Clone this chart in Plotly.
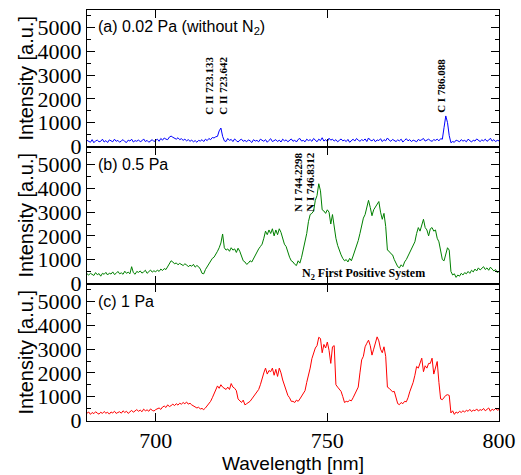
import plotly.graph_objects as go
from plotly.subplots import make_subplots

# Wavelength sampling: start and step (nm)
wl_start = 680.0
wl_step = 0.5

# (a) 0.02 Pa (without N2) -- intensity [a.u.], 680..800 nm every 0.5 nm
int_a = [
    250, 200, 170, 280, 150, 230, 260, 190, 210, 300,
    180, 240, 160, 270, 220, 190, 300, 210, 250, 170,
    230, 280, 200, 160, 260, 220, 300, 180, 240, 210,
    270, 190, 230, 310, 200, 250, 170, 230, 280, 200,
    240, 300, 210, 330, 260, 350, 300, 280, 390, 430,
    380, 340, 300, 360, 280, 320, 250, 300, 230, 280,
    210, 260, 190, 240, 170, 250, 220, 280, 200, 300,
    240, 330, 280, 370, 350, 400, 420, 650, 770, 420,
    230, 200, 330, 250, 290, 200, 310, 240, 180, 260,
    300, 210, 250, 190, 270, 230, 160, 280, 220, 250,
    190, 300, 240, 210, 280, 170, 250, 320, 200, 240,
    280, 200, 260, 180, 300, 230, 270, 190, 250, 310,
    210, 260, 180, 290, 330, 220, 250, 190, 300, 240,
    280, 210, 330, 250, 190, 300, 240, 360, 220, 280,
    200, 340, 260, 300, 220, 280, 190, 250, 310, 230,
    260, 200, 290, 170, 240, 300, 220, 330, 260, 210,
    280, 240, 310, 200, 350, 260, 230, 300, 190, 270,
    240, 320, 200, 280, 230, 350, 260, 210, 290, 240,
    200, 270, 230, 300, 180, 250, 320, 230, 280, 200,
    260, 230, 190, 290, 240, 280, 330, 220, 260, 300,
    240, 210, 280, 250, 300, 230, 320, 300, 800, 1280,
    1000, 450, 150, 200, 170, 260, 230, 190, 280, 220,
    250, 190, 300, 230, 180, 260, 220, 310, 240, 200,
    270, 230, 300, 210, 260, 340, 220, 280, 200, 250,
    230,
]

# (b) 0.5 Pa
int_b = [
    400, 350, 420, 380, 330, 450, 360, 410, 300, 420,
    380, 460, 350, 430, 390, 480, 370, 420, 500, 400,
    440, 380, 510, 420, 470, 400, 700, 450, 380, 500,
    460, 520, 430, 480, 550, 420, 500, 560, 470, 530,
    480, 560, 500, 600, 540, 620, 580, 700, 880, 950,
    900, 820, 860, 780, 840, 800, 750, 820, 780, 700,
    760, 720, 800, 680, 750, 700, 600, 420, 400, 580,
    700, 800, 950, 1050, 1100, 1200, 1350, 1500, 1700, 2080,
    1500, 1400, 1450, 1350, 1500, 1400, 1450, 1300, 1480, 1350,
    1100, 950, 900, 800, 850, 950, 900, 1050, 1200, 1350,
    1450, 1550, 1650, 1900, 2200, 2050, 2250, 2100, 2300, 2000,
    2250, 2050, 2300, 2150, 1900, 1650, 1550, 1300, 1100, 950,
    900, 800, 750, 950, 850, 1100, 1450, 1650, 2100, 2600,
    2900, 2950, 3050, 3500, 3700, 4200, 3900, 3100, 3050, 2950,
    3100, 3000, 2500, 2900, 2300, 1900, 1600, 1350, 1200, 1050,
    950, 1000, 900, 1050, 950, 1150, 1350, 1550, 1800, 2100,
    2450, 2750, 2900, 3150, 3500, 3200, 2850, 3100, 3200, 3300,
    3450, 3000, 2700, 2950, 2400, 1400, 1350, 1250, 1200, 1000,
    850, 700, 650, 780, 700, 900, 1000, 1150, 1300, 1450,
    1600, 1750, 2100, 2350, 2200, 2500, 2700, 2350, 2250, 2000,
    2300, 2350, 2200, 2250, 1900, 1750, 1300, 1000, 950, 1300,
    1500, 1400, 500, 350, 400, 250, 350, 300, 420, 350,
    450, 400, 500, 420, 550, 480, 600, 520, 650, 560,
    620, 700, 580, 650, 550, 680, 600, 520, 580, 450,
    500,
]

# (c) 1 Pa
int_c = [
    300, 350, 250, 330, 280, 360, 300, 260, 340, 290,
    370, 300, 340, 260, 350, 310, 380, 290, 330, 360,
    300, 400, 330, 380, 290, 360, 420, 340, 380, 450,
    380, 430, 360, 470, 400, 440, 380, 480, 420, 390,
    450, 480, 520, 460, 560, 600, 540, 650, 580, 620,
    680, 620, 700, 640, 720, 680, 750, 700, 770, 680,
    720, 650, 600, 560, 520, 550, 480, 500, 450, 520,
    600, 700, 800, 950, 1100, 1250, 1450, 1350, 1500, 1400,
    1350, 1300, 1400, 1300, 1550, 1400, 1350, 1250, 900, 800,
    750, 850, 650, 700, 750, 800, 900, 1000, 1150, 1250,
    1300, 1500, 1800, 2000, 2200, 1950, 2100, 2050, 2200, 1900,
    2150, 1850, 2200, 2000, 1700, 1450, 1300, 1050, 950, 800,
    800, 750, 850, 800, 900, 1000, 1100, 1250, 1600, 1850,
    2200, 2600, 2800, 3050, 3150, 3500, 3450, 2850, 3200, 3050,
    3300, 2950, 2400, 3100, 3150, 1500, 1400, 1300, 1220, 1000,
    750, 800, 780, 850, 820, 950, 1100, 1250, 1400, 2000,
    2550, 2700, 3100, 3250, 3380, 3150, 2750, 3000, 3250, 3520,
    3350, 3000, 2850, 3100, 2700, 1400, 1350, 1250, 1200, 1220,
    950, 700, 660, 750, 700, 800, 780, 950, 1200, 1400,
    1600, 1900, 2270, 2200, 2450, 2620, 2050, 2300, 2200, 2400,
    2400, 2620, 1950, 2200, 2480, 1600, 900, 870, 950, 1050,
    1080, 1050, 310, 400, 250, 350, 300, 380, 330, 400,
    350, 420, 380, 460, 370, 430, 400, 480, 390, 450,
    420, 500, 400, 460, 520, 380, 470, 420, 500, 430,
    450,
]

panel_labels = ["(a) 0.02 Pa (without N<sub>2</sub>)", "(b) 0.5 Pa", "(c) 1 Pa"]
line_colors = ["#0000ff", "#008000", "#ff0000"]
series = [int_a, int_b, int_c]

# line identifications: (text, wavelength position, intensity position, panel row)
line_ids = [
    ("C II 723.133", 715.5, 2550, 1),
    ("C II 723.642", 719.6, 2550, 1),
    ("C I 786.088", 783.1, 2550, 1),
    ("N I 744.2298", 741.3, 4250, 2),
    ("N I 746.8312", 744.7, 4250, 2),
]

y_ticks = [0, 1000, 2000, 3000, 4000, 5000]
x_ticks = [700, 750, 800]

fig = make_subplots(rows=3, cols=1, shared_xaxes=True, vertical_spacing=0)

for i, (vals, col) in enumerate(zip(series, line_colors)):
    fig.add_trace(
        go.Scatter(x0=wl_start, dx=wl_step, y=vals, mode="lines",
                   line=dict(color=col, width=1), showlegend=False,
                   hoverinfo="skip"),
        row=i + 1, col=1,
    )

serif = "Liberation Serif"
sans = "Liberation Sans"

for r in range(1, 4):
    fig.update_yaxes(
        range=[-30, 5750], tickvals=y_ticks, ticks="inside", ticklen=8,
        tickwidth=1, tickcolor="black", mirror="ticks", showline=True,
        linecolor="black", linewidth=1, showgrid=False, zeroline=False,
        tickfont=dict(family=serif, size=22, color="black"),
        minor=dict(dtick=500, tick0=0, ticks="inside", ticklen=4,
                   tickcolor="black", tickwidth=1),
        row=r, col=1,
    )
    fig.update_xaxes(
        range=[680, 800], tickvals=x_ticks, ticks="inside", ticklen=8,
        tickwidth=1, tickcolor="black", mirror="ticks", showline=True,
        linecolor="black", linewidth=1, showgrid=False, zeroline=False,
        tickfont=dict(family=serif, size=22, color="black"),
        showticklabels=(r == 3),
        row=r, col=1,
    )

fig.update_xaxes(title=dict(text="Wavelength [nm]", standoff=4,
                            font=dict(family=sans, size=19, color="black")),
                 row=3, col=1)

annotations = []
axis_names = ["y", "y2", "y3"]
for i, lab in enumerate(panel_labels):
    yn = axis_names[i]
    annotations.append(dict(
        text=lab, xref="x domain" if i == 0 else f"x{i+1} domain", x=0.022,
        yref=yn, y=5000, xanchor="left", yanchor="middle", showarrow=False,
        font=dict(family=sans, size=16, color="black"),
    ))
    annotations.append(dict(
        text="Intensity [a.u.]", xref="paper", x=0, xshift=-62,
        yref=f"{yn} domain", y=0.5, xanchor="center", yanchor="middle",
        textangle=-90, showarrow=False,
        font=dict(family=sans, size=20, color="black"),
    ))

for txt, xw, yv, r in line_ids:
    annotations.append(dict(
        text=txt, x=xw, y=yv, xref="x" if r == 1 else f"x{r}",
        yref=axis_names[r - 1], textangle=-90, showarrow=False,
        xanchor="center", yanchor="middle",
        font=dict(family=serif, size=11, color="black", weight="bold"),
    ))

annotations.append(dict(
    text="N<sub>2</sub> First Positive System", x=760.4, y=380,
    xref="x2", yref="y2", showarrow=False, xanchor="center", yanchor="middle",
    font=dict(family=serif, size=12, color="black", weight="bold"),
))

fig.update_layout(
    width=521, height=475,
    margin=dict(l=87, r=22, t=10, b=54, autoexpand=False),
    plot_bgcolor="white", paper_bgcolor="white",
    annotations=annotations,
)

fig.write_html("out.html")
